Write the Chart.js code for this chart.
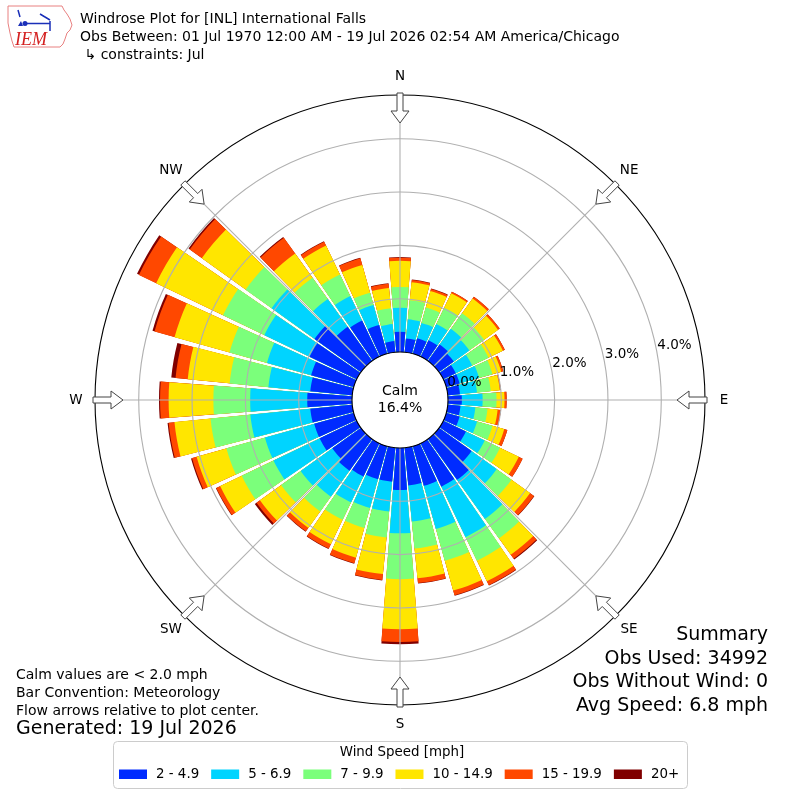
<!DOCTYPE html>
<html>
<head>
<meta charset="utf-8">
<title>Windrose Plot - International Falls</title>
<script src="https://cdn.jsdelivr.net/npm/chart.js@4.4.1/dist/chart.umd.min.js"></script>
<style>
  html, body { margin: 0; padding: 0; background: #fff; }
  #windrose { display: block; }
</style>
</head>
<body>
<canvas id="windrose" width="800" height="800"></canvas>
<script>
// Wind directions in degrees (meteorological: where the wind blows from)
const directions = [0, 10, 20, 30, 40, 50, 60, 70, 80, 90, 100, 110, 120, 130, 140, 150, 160, 170,
                    180, 190, 200, 210, 220, 230, 240, 250, 260, 270, 280, 290, 300, 310, 320, 330, 340, 350];

// Percent of all observations, one array per speed bin (same order as directions)
const speed2to5 = [0.38, 0.26, 0.30, 0.34, 0.38, 0.34, 0.26, 0.26, 0.23, 0.26, 0.24, 0.26,
                   0.47, 0.75, 0.94, 0.90, 0.77, 0.71, 0.79, 0.64, 0.64, 0.69, 0.73, 0.66,
                   0.77, 0.77, 0.79, 0.84, 0.79, 0.83, 0.98, 1.07, 0.79, 0.75, 0.56, 0.21];
const speed5to7 = [0.45, 0.36, 0.30, 0.34, 0.36, 0.36, 0.34, 0.38, 0.32, 0.39, 0.28, 0.34,
                   0.39, 0.58, 0.90, 1.05, 0.84, 0.68, 0.81, 0.56, 0.56, 0.54, 0.60, 0.73,
                   0.96, 0.96, 1.13, 1.07, 0.79, 0.86, 0.94, 0.99, 0.64, 0.51, 0.39, 0.32];
const speed7to10 = [0.39, 0.36, 0.30, 0.34, 0.36, 0.34, 0.34, 0.26, 0.26, 0.26, 0.23, 0.30,
                    0.32, 0.34, 0.45, 0.49, 0.62, 0.51, 0.86, 0.49, 0.39, 0.36, 0.34, 0.45,
                    0.66, 0.75, 0.75, 0.69, 0.73, 0.73, 0.86, 0.60, 0.49, 0.45, 0.24, 0.30];
const speed10to15 = [0.49, 0.34, 0.32, 0.30, 0.34, 0.32, 0.30, 0.17, 0.17, 0.15, 0.19, 0.23,
                     0.39, 0.43, 0.38, 0.43, 0.58, 0.56, 0.94, 0.69, 0.58, 0.51, 0.38, 0.49,
                     0.45, 0.58, 0.68, 0.84, 0.79, 1.07, 1.39, 1.01, 0.56, 0.60, 0.54, 0.38];
const speed15to20 = [0.06, 0.04, 0.04, 0.03, 0.04, 0.04, 0.04, 0.04, 0.02, 0.04, 0.06, 0.06,
                     0.08, 0.09, 0.09, 0.08, 0.09, 0.09, 0.24, 0.11, 0.11, 0.09, 0.08, 0.08,
                     0.08, 0.09, 0.11, 0.16, 0.23, 0.39, 0.36, 0.28, 0.36, 0.08, 0.13, 0.08];
const speed20plus = [0.01, 0.01, 0.01, 0.00, 0.00, 0.00, 0.00, 0.00, 0.00, 0.00, 0.00, 0.00,
                     0.00, 0.01, 0.02, 0.01, 0.01, 0.01, 0.04, 0.01, 0.01, 0.01, 0.01, 0.04,
                     0.01, 0.02, 0.02, 0.02, 0.08, 0.04, 0.04, 0.03, 0.02, 0.01, 0.01, 0.01];

const speedBins = ['2 - 4.9', '5 - 6.9', '7 - 9.9', '10 - 14.9', '15 - 19.9', '20+'];
const binColors = ['#002bff', '#00d4ff', '#7bff7b', '#ffe600', '#ff4800', '#800000'];

// Radial axis (percent), the calm circle sits at 0
const radialTicks = [0, 1, 2, 3, 4];
const axisMin = -0.9;
const axisMax = 4.82;

const compassPoints = ['N', 'NE', 'E', 'SE', 'S', 'SW', 'W', 'NW'];
const calmPercent = 16.4;
const summaryLines = ['Summary', 'Obs Used: 34992', 'Obs Without Wind: 0', 'Avg Speed: 6.8 mph'];
const titleLines = ['Windrose Plot for [INL] International Falls',
                    'Obs Between: 01 Jul 1970 12:00 AM - 19 Jul 2026 02:54 AM America/Chicago',
                    ' \u21b3 constraints: Jul'];
const noteLines = ['Calm values are < 2.0 mph', 'Bar Convention: Meteorology',
                   'Flow arrows relative to plot center.'];
const generatedText = 'Generated: 19 Jul 2026';

const FONT = '"DejaVu Sans", "Liberation Sans", sans-serif';
const BAR_WIDTH = 9;   // degrees per bar, remaining 1 degree is the gap

// Polar area slices: half gap, bar, gap, bar, ..., bar, half gap
const bins = [speed2to5, speed5to7, speed7to10, speed10to15, speed15to20, speed20plus];
const labels = [''];
directions.forEach((d, i) => {
    labels.push(d + '\u00b0');
    labels.push('');
});

// Each dataset holds the running total up to its bin; smaller totals are drawn on top
const datasets = bins.map((bin, k) => {
    const data = [0];
    directions.forEach((d, i) => {
        let total = 0;
        for (let j = 0; j <= k; j++) total += bins[j][i];
        data.push(total);
        data.push(0);
    });
    return {
        label: speedBins[k],
        data: data,
        borderWidth: 0,
        backgroundColor: ctx => ctx.dataIndex % 2 === 1 ? binColors[k] : 'rgba(0,0,0,0)',
        angle: ctx => {
            // outer datasets a hair narrower so their edges never peek out
            const w = BAR_WIDTH - 0.05 * ctx.datasetIndex;
            const g = 10 - w;
            if (ctx.dataIndex % 2 === 1) return w;
            if (ctx.dataIndex === 0 || ctx.dataIndex === labels.length - 1) return g / 2;
            return g;
        }
    };
});

function polar(scale, r, deg) {
    const t = deg * Math.PI / 180;
    return { x: scale.xCenter + r * Math.sin(t), y: scale.yCenter - r * Math.cos(t) };
}

function drawArrow(ctx, scale, deg) {
    // Inward pointing flow arrow sitting on the outer ring
    const t = deg * Math.PI / 180;
    const ux = Math.sin(t), uy = -Math.cos(t);
    const nx = Math.cos(t), ny = Math.sin(t);
    const shape = [[277, 0], [289, 9], [289, 3], [307, 3], [307, -3], [289, -3], [289, -9]];
    ctx.beginPath();
    shape.forEach((p, i) => {
        const x = scale.xCenter + ux * p[0] + nx * p[1];
        const y = scale.yCenter + uy * p[0] + ny * p[1];
        if (i === 0) ctx.moveTo(x, y); else ctx.lineTo(x, y);
    });
    ctx.closePath();
    ctx.fillStyle = '#fff';
    ctx.fill();
    ctx.strokeStyle = '#444';
    ctx.lineWidth = 1;
    ctx.stroke();
}

function drawLogo(ctx) {
    ctx.save();
    // rough Iowa outline
    const outline = [[8, 6], [62, 6], [64, 10], [67, 14], [70, 19], [72, 25], [70, 30], [67, 33],
                     [65, 39], [63, 44], [60, 47], [14, 47], [12, 41], [10, 33], [8, 23]];
    ctx.beginPath();
    outline.forEach((p, i) => i === 0 ? ctx.moveTo(p[0], p[1]) : ctx.lineTo(p[0], p[1]));
    ctx.closePath();
    ctx.strokeStyle = '#e88080';
    ctx.lineWidth = 1;
    ctx.stroke();
    // little station icon
    ctx.strokeStyle = '#1a2fb8';
    ctx.fillStyle = '#1a2fb8';
    ctx.lineWidth = 1.5;
    ctx.beginPath();
    ctx.moveTo(18, 10); ctx.lineTo(20, 17);
    ctx.moveTo(25, 23.5); ctx.lineTo(50, 23.5);
    ctx.moveTo(40, 14); ctx.lineTo(50, 20);
    ctx.moveTo(50, 21); ctx.lineTo(50, 31);
    ctx.stroke();
    ctx.beginPath(); ctx.arc(25, 23.5, 2.5, 0, Math.PI * 2); ctx.fill();
    ctx.beginPath();
    ctx.moveTo(18, 26); ctx.lineTo(21, 21); ctx.lineTo(23, 26); ctx.closePath();
    ctx.fill();
    // IEM text
    ctx.fillStyle = '#d42020';
    ctx.font = 'italic 18px "Liberation Serif", serif';
    ctx.textAlign = 'left';
    ctx.textBaseline = 'alphabetic';
    ctx.fillText('IEM', 15, 45);
    ctx.restore();
}

const windroseDecor = {
    id: 'windroseDecor',
    afterDatasetsDraw(chart) {
        const scale = chart.scales.r;
        const ctx = chart.ctx;
        const r0 = scale.getDistanceFromCenterForValue(0);
        const rMax = scale.drawingArea;
        ctx.save();
        // calm circle
        ctx.fillStyle = '#fff';
        ctx.beginPath();
        ctx.arc(scale.xCenter, scale.yCenter, r0, 0, Math.PI * 2);
        ctx.fill();
        // spokes every 45 degrees
        ctx.strokeStyle = '#b0b0b0';
        ctx.lineWidth = 1.1;
        for (let a = 0; a < 360; a += 45) {
            const p1 = polar(scale, r0, a);
            const p2 = polar(scale, rMax, a);
            ctx.beginPath();
            ctx.moveTo(p1.x, p1.y);
            ctx.lineTo(p2.x, p2.y);
            ctx.stroke();
        }
        ctx.restore();
    },
    afterDraw(chart) {
        const scale = chart.scales.r;
        const ctx = chart.ctx;
        ctx.save();

        // flow arrows and compass labels
        compassPoints.forEach((name, i) => {
            drawArrow(ctx, scale, i * 45);
        });
        ctx.fillStyle = '#000';
        ctx.font = '13.5px ' + FONT;
        ctx.textAlign = 'center';
        ctx.textBaseline = 'middle';
        compassPoints.forEach((name, i) => {
            const p = polar(scale, 324, i * 45);
            ctx.fillText(name, p.x, p.y);
        });

        // radial tick labels
        ctx.textAlign = 'left';
        radialTicks.forEach(v => {
            const p = polar(scale, scale.getDistanceFromCenterForValue(v), 80);
            ctx.fillText(v.toFixed(1) + '%', p.x, p.y - 9.5);
        });

        // calm text
        ctx.textAlign = 'center';
        ctx.font = '14px ' + FONT;
        ctx.fillText('Calm', scale.xCenter, scale.yCenter - 9);
        ctx.fillText(calmPercent.toFixed(1) + '%', scale.xCenter, scale.yCenter + 8);

        // header
        drawLogo(ctx);
        ctx.fillStyle = '#000';
        ctx.textAlign = 'left';
        ctx.font = '14px ' + FONT;
        titleLines.forEach((line, i) => ctx.fillText(line, 80, 19 + i * 18));

        // notes bottom left
        noteLines.forEach((line, i) => ctx.fillText(line, 16, 675 + i * 18));
        ctx.font = '19px ' + FONT;
        ctx.fillText(generatedText, 16, 729);

        // summary bottom right
        ctx.textAlign = 'right';
        summaryLines.forEach((line, i) => ctx.fillText(line, 768, 635 + i * 23.7));

        // legend box
        ctx.beginPath();
        ctx.roundRect(113.5, 741.5, 574, 47, 4);
        ctx.fillStyle = 'rgba(255,255,255,0.8)';
        ctx.fill();
        ctx.strokeStyle = '#cccccc';
        ctx.lineWidth = 1;
        ctx.stroke();
        ctx.fillStyle = '#000';
        ctx.textAlign = 'center';
        ctx.font = '13.4px ' + FONT;
        ctx.fillText('Wind Speed [mph]', 402, 752.5);
        ctx.textAlign = 'left';
        let x = 119;
        speedBins.forEach((name, k) => {
            ctx.fillStyle = binColors[k];
            ctx.fillRect(x, 769.5, 28, 9.5);
            ctx.fillStyle = '#000';
            ctx.fillText(name, x + 37, 774.5);
            x += 37 + ctx.measureText(name).width + 12;
        });

        ctx.restore();
    }
};

const chart = new Chart(document.getElementById('windrose').getContext('2d'), {
    type: 'polarArea',
    data: { labels: labels, datasets: datasets },
    options: {
        responsive: false,
        animation: false,
        events: [],
        layout: { padding: 95 },
        plugins: {
            legend: { display: false },
            tooltip: { enabled: false }
        },
        scales: {
            r: {
                min: axisMin,
                max: axisMax,
                startAngle: -5,
                ticks: { display: false, z: 1 },
                pointLabels: { display: false },
                angleLines: { display: false },
                grid: {
                    z: 1,
                    circular: true,
                    lineWidth: 1.1,
                    color: ctx => {
                        const v = ctx.tick ? ctx.tick.value : 1;
                        if (v < 0) return 'rgba(0,0,0,0)';
                        if (v === 0 || v >= axisMax) return '#000';
                        return '#b0b0b0';
                    }
                },
                afterBuildTicks: scale => {
                    scale.ticks = [axisMin].concat(radialTicks, [axisMax]).map(v => ({ value: v }));
                }
            }
        }
    },
    plugins: [windroseDecor]
});
</script>
</body>
</html>
